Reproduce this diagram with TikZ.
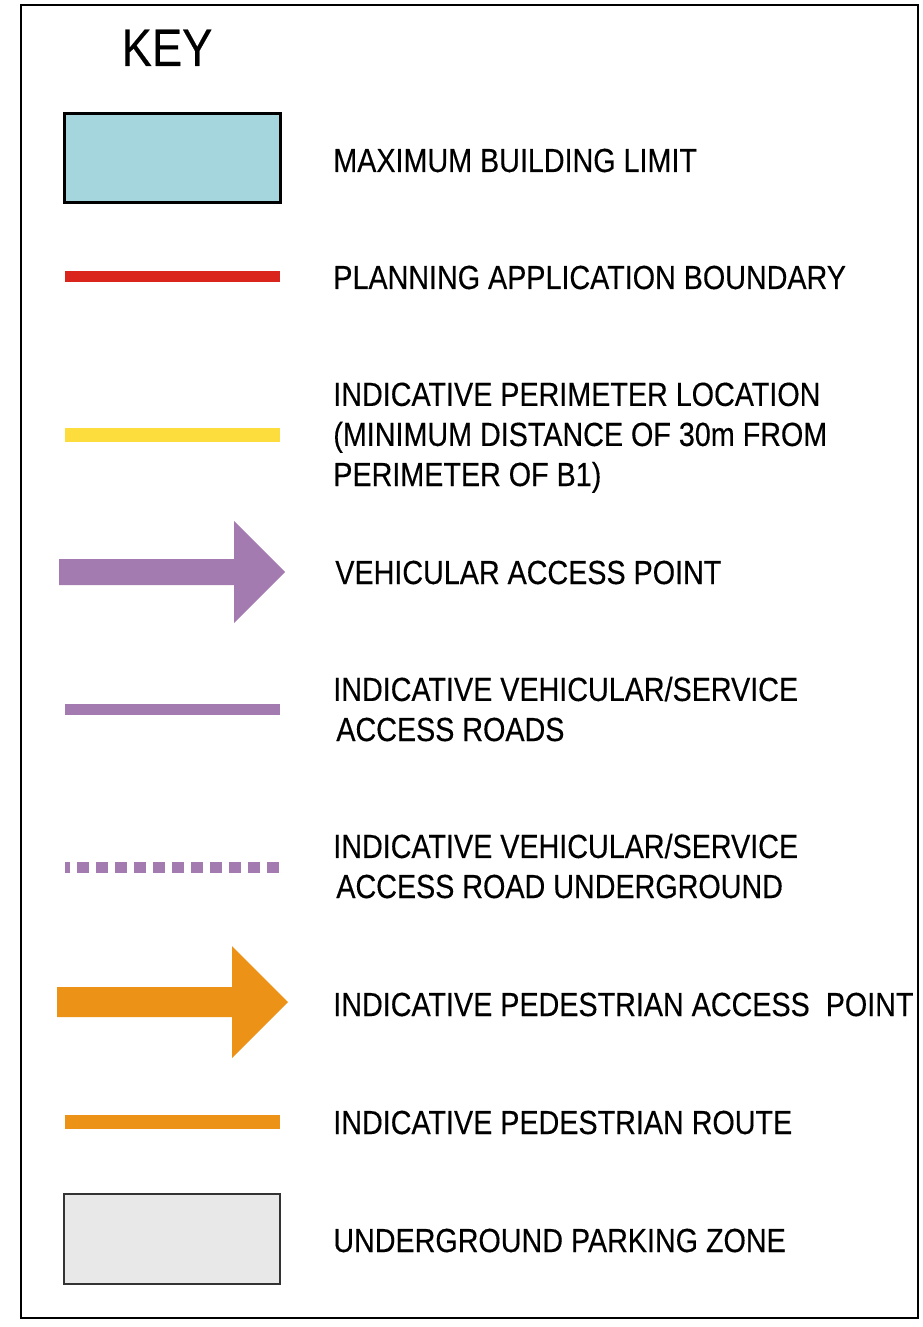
\documentclass[tikz,border=0pt]{standalone}
\usepackage{fontspec}
\setmainfont{Liberation Sans}[FakeStretch=0.86, FakeBold=0.3]
\usepackage{tikz}

\definecolor{limitcyan}{HTML}{A5D6DD}
\definecolor{boundred}{HTML}{DA251C}
\definecolor{perimyellow}{HTML}{FDDC3D}
\definecolor{vehpurple}{HTML}{A47BB0}
\definecolor{pedorange}{HTML}{EC9317}
\definecolor{parkgrey}{HTML}{E8E8E8}

\begin{document}
\begin{tikzpicture}[x=0.02cm, y=-0.02cm,
	keytext/.style={anchor=base west, inner sep=0, align=left, font=\fontsize{19}{22.8}\selectfont},
	keyline/.style={line width=0.22cm}]
	\useasboundingbox (0,0) rectangle (922,1327);
	\draw [line width=0.03cm] (21,5) rectangle (918,1318);
	\node [anchor=base, inner sep=0, font=\fontsize{30}{36}\selectfont] (key) at (167,66) {KEY};

	% symbols
	\draw [fill=limitcyan, line width=0.06cm] (64,114) rectangle (280,203);
	\draw [keyline, boundred] (65,277) -- (280,277);
	\draw [keyline, perimyellow, line width=0.3cm] (65,435) -- (280,435);
	\fill [vehpurple] (59,559) -- (234,559) -- (234,521) -- (285,572) -- (234,623) -- (234,585) -- (59,585) -- cycle;
	\draw [keyline, vehpurple] (65,709.5) -- (280,709.5);
	\draw [keyline, vehpurple, dash pattern=on 0.24cm off 0.14cm, dash phase=0.14cm] (65,867) -- (280,867);
	\fill [pedorange] (57,987) -- (232,987) -- (232,946) -- (288,1002) -- (232,1058) -- (232,1017) -- (57,1017) -- cycle;
	\draw [keyline, pedorange, line width=0.28cm] (65,1122) -- (280,1122);
	\draw [fill=parkgrey, draw=black!80, line width=0.04cm] (64,1194) rectangle (280,1284);

	% labels (multi-line ones sit on their last baseline)
	\node [keytext] (limit) at (333,172) {MAXIMUM BUILDING LIMIT};
	\node [keytext] (boundary) at (333,289) {PLANNING APPLICATION BOUNDARY};
	\node [keytext] (perimeter) at (333,486) {INDICATIVE PERIMETER LOCATION\\(MINIMUM DISTANCE OF 30m FROM\\PERIMETER OF B1)};
	\node [keytext] (vehaccess) at (335,584) {VEHICULAR ACCESS POINT};
	\node [keytext] (roads) at (333,741) {INDICATIVE VEHICULAR/SERVICE\\\hspace*{0.06cm}ACCESS ROADS};
	\node [keytext] (underground) at (333,898) {INDICATIVE VEHICULAR/SERVICE\\\hspace*{0.06cm}ACCESS ROAD UNDERGROUND};
	\node [keytext] (pedaccess) at (333,1016) {INDICATIVE PEDESTRIAN ACCESS\ \ POINT};
	\node [keytext] (pedroute) at (333,1134) {INDICATIVE PEDESTRIAN ROUTE};
	\node [keytext] (parking) at (333,1252) {UNDERGROUND PARKING ZONE};
\end{tikzpicture}
\end{document}
